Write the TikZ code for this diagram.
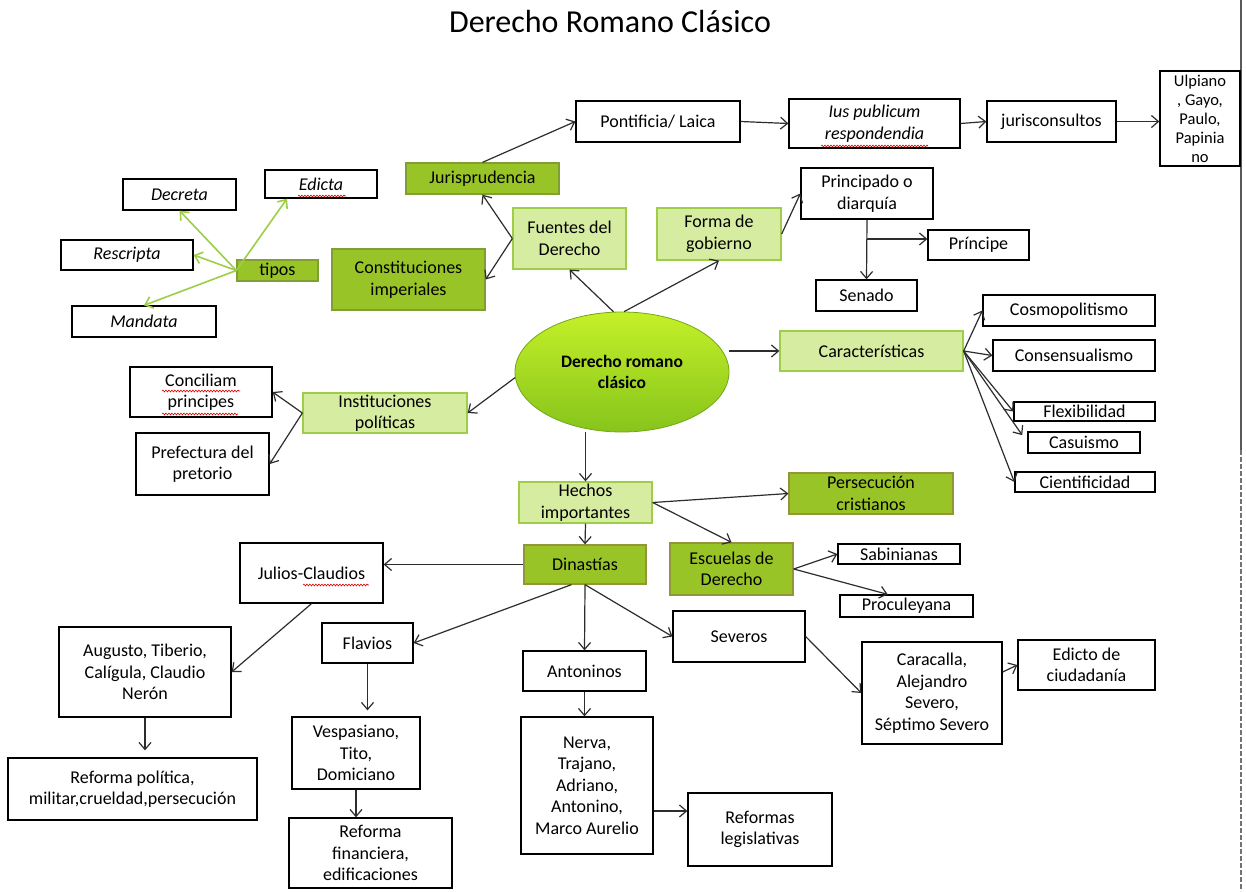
\documentclass[tikz,border=0pt]{standalone}
\usepackage{fontspec}
\setmainfont{Carlito}
\usetikzlibrary{arrows.meta,shapes.geometric,calc,decorations.pathmorphing}
\definecolor{dg}{RGB}{153,196,40}
\definecolor{dgb}{RGB}{128,158,52}
\definecolor{lg}{RGB}{214,236,160}
\definecolor{lgb}{RGB}{158,206,72}
\definecolor{conn}{RGB}{45,45,45}
\definecolor{tconn}{RGB}{158,206,72}
\definecolor{ellA}{RGB}{196,240,40}
\definecolor{ellB}{RGB}{135,196,28}
\tikzset{
  base/.style={inner sep=0pt, align=center, font=\fontsize{18}{21.5}\selectfont, text=black},
  itf/.style={font=\fontsize{18}{21.5}\selectfont\itshape},
  sz/.style 2 args={minimum width=#1pt, minimum height=#2pt},
  wbox/.style={base, draw=black, line width=1.3pt, fill=white},
  dgbox/.style={base, draw=dgb, line width=1.3pt, fill=dg},
  lgbox/.style={base, draw=lgb, line width=1.3pt, fill=lg},
  arr/.style={draw=conn, line width=1.2pt, -{Straight Barb[length=7pt,width=12pt]}},
  garr/.style={draw=tconn, line width=1.6pt, -{Straight Barb[length=7pt,width=12pt]}},
  squig/.style={draw=red!85!black, line width=0.6pt, decorate, decoration={snake, amplitude=0.9pt, segment length=3pt}}
}
\begin{document}
\begin{tikzpicture}[x=1pt,y=-1pt]
\useasboundingbox (0,0) rectangle (1246,891);
\fill[white] (0,0) rectangle (1246,891);
% right page border
\draw[black!65, line width=1.6pt] (1241,0) -- (1241,450);
\draw[black!55, line width=1.6pt, dash pattern=on 5pt off 2pt] (1241,450) -- (1241,891);

\node[base, font=\fontsize{32}{36}\selectfont] (title) at (610,22) {Derecho Romano Clásico};

% top area
\node[wbox, sz={164}{41}] (pont) at (658,121.5) {Pontificia/ Laica};
\node[wbox, sz={171}{49}, itf] (ius) at (874.5,123.5) {Ius publicum\\respondendia};
\node[wbox, sz={129}{41}] (juris) at (1051.5,121.5) {jurisconsultos};
\node[wbox, sz={80}{95}, font=\fontsize{16.5}{19}\selectfont] (ulp) at (1200,118.5) {Ulpiano\\, Gayo,\\Paulo,\\Papinia\\no};
\node[dgbox, sz={153}{31}] (jurisp) at (482.5,178.5) {Jurisprudencia};
\node[wbox, sz={112}{28}, itf] (edicta) at (321,184) {Edicta};
\node[wbox, sz={113}{31}, itf] (decreta) at (179.5,194.5) {Decreta};
\node[wbox, sz={132}{30}, itf] (rescripta) at (127,255) {Rescripta};
\node[dgbox, sz={81}{21}] (tipos) at (277.5,270.5) {tipos};
\node[wbox, sz={144}{31}, itf] (mandata) at (144,321.5) {Mandata};
\node[lgbox, sz={113}{61}] (fuentes) at (569.5,238.5) {Fuentes del\\Derecho};
\node[dgbox, sz={153}{61}] (const) at (408.5,279.5) {Constituciones\\imperiales};
\node[lgbox, sz={124}{52}] (forma) at (719,234) {Forma de\\gobierno};
\node[wbox, sz={132}{51}] (princ) at (867,193.5) {Principado o\\diarquía};
\node[wbox, sz={101}{30}] (principe) at (978.5,245) {Príncipe};
\node[wbox, sz={101}{31}] (senado) at (866.5,295.5) {Senado};

% central ellipse
\node[ellipse, draw=ellB!85!black, line width=0.8pt, top color=ellA, bottom color=ellB, minimum width=214pt, minimum height=120pt, inner sep=0pt, align=center, font=\fontsize{17.5}{21.5}\selectfont\bfseries] (ell) at (622,372) {Derecho romano\\clásico};

% characteristics
\node[lgbox, sz={183}{40}] (caract) at (871.5,351) {Características};
\node[wbox, sz={172}{31}] (cosmo) at (1069,310.5) {Cosmopolitismo};
\node[wbox, sz={162}{31}] (consen) at (1074,355.5) {Consensualismo};
\node[wbox, sz={141}{19}] (flex) at (1084.5,411.5) {Flexibilidad};
\node[wbox, sz={112}{21}] (casu) at (1084,442.5) {Casuismo};
\node[wbox, sz={140}{20}] (cient) at (1085,482) {Cientificidad};

% institutions
\node[lgbox, sz={164}{40}] (instit) at (385,413) {Instituciones\\políticas};
\node[wbox, sz={142}{50}] (concil) at (201,392) {Conciliam\\principes};
\node[wbox, sz={133}{62}] (prefect) at (202.5,464) {Prefectura del\\pretorio};

% events
\node[lgbox, sz={133}{41}] (hechos) at (585.5,502.5) {Hechos\\importantes};
\node[dgbox, draw=dgb!70!brown, sz={164}{41}] (persec) at (871,493.5) {Persecución\\cristianos};
\node[dgbox, draw=dgb!70!brown, sz={123}{52}] (escuelas) at (731.5,569) {Escuelas de\\Derecho};
\node[dgbox, draw=dgb!70!brown, sz={122}{39}] (dinast) at (585,564.5) {Dinastías};
\node[wbox, sz={122}{20}] (sabin) at (899,554) {Sabinianas};
\node[wbox, sz={133}{22}] (procul) at (906.5,606) {Proculeyana};

% dynasties
\node[wbox, sz={143}{60}] (julios) at (311.5,573) {Julios-Claudios};
\node[wbox, sz={91}{40}] (flavios) at (367.5,643) {Flavios};
\node[wbox, sz={123}{40}] (antoninos) at (584.5,671) {Antoninos};
\node[wbox, sz={132}{51}] (severos) at (739,636.5) {Severos};
\node[wbox, sz={172}{90}] (augusto) at (145,672) {Augusto, Tiberio,\\Calígula, Claudio\\Nerón};
\node[wbox, sz={249}{62}] (refpol) at (132.5,789) {Reforma política,\\militar,crueldad,persecución};
\node[wbox, sz={128}{72}] (vesp) at (356,753) {Vespasiano,\\Tito,\\Domiciano};
\node[wbox, sz={163}{70}] (reffin) at (370.5,853) {Reforma\\financiera,\\edificaciones};
\node[wbox, sz={132}{137}] (nerva) at (587,785.5) {Nerva,\\Trajano,\\Adriano,\\Antonino,\\Marco Aurelio};
\node[wbox, sz={144}{73}] (reflegis) at (760,829.5) {Reformas\\legislativas};
\node[wbox, sz={140}{102}] (caracalla) at (932,693) {Caracalla,\\Alejandro\\Severo,\\Séptimo Severo};
\node[wbox, sz={137}{50}] (edicto) at (1086.5,665) {Edicto de\\ciudadanía};

% spell-check underlines
\draw[squig] (298,196) -- (346,196);
\draw[squig] (821,146) -- (928,146);
\draw[squig] (162,391) -- (240,391);
\draw[squig] (162,414) -- (238,414);
\draw[squig] (303,585) -- (369,585);

% connectors: top
\draw[arr] (ell.98) -- (fuentes.south);
\draw[arr] (ell.88) -- (forma.south);
\draw[arr] (fuentes.west) -- (jurisp.south);
\draw[arr] (fuentes.west) -- (const.east);
\draw[arr] (jurisp.north) -- (pont.west);
\draw[arr] (pont.east) -- (ius.west);
\draw[arr] (ius.east) -- (juris.west);
\draw[arr] (juris.east) -- (ulp.west |- juris.east);
\draw[garr] (tipos.west) -- (decreta.south);
\draw[garr] (tipos.west) -- ($(edicta.south west)!0.2!(edicta.south east)$);
\draw[garr] (tipos.west) -- (rescripta.east);
\draw[garr] (tipos.west) -- (mandata.north);
\draw[arr] (forma.east) -- (princ.west);
\coordinate (pbr) at (867,239);
\draw[arr] (princ.south) -- (senado.north);
\draw[arr] (pbr) -- (principe.west |- pbr);

% characteristics
\draw[arr] (ell.east |- caract.west) -- (caract.west);
\draw[arr] (caract.east) -- (cosmo.west);
\draw[arr] (caract.east) -- (consen.west);
\draw[arr] (caract.east) -- (flex.west);
\draw[arr, shorten >=9pt] (caract.east) -- (casu.west);
\draw[arr] (caract.east) -- (cient.west);

% institutions
\draw[arr] (ell.183) -- (instit.east);
\draw[arr] (instit.west) -- (concil.east);
\draw[arr] (instit.west) -- (prefect.east);

% events
\draw[arr] (hechos.north |- ell.south) -- (hechos.north);
\draw[arr] (hechos.east) -- (persec.west);
\draw[arr] (hechos.east) -- (escuelas.north);
\draw[arr] (hechos.south) -- (dinast.north);
\draw[arr] (escuelas.east) -- (sabin.west);
\draw[arr] (escuelas.east) -- ($(procul.north west)!0.36!(procul.north east)$);

% dynasties
\draw[arr] (dinast.west) -- (julios.east |- dinast.west);
\draw[arr] ($(dinast.south west)!0.39!(dinast.south east)$) -- (flavios.east);
\draw[arr] (dinast.south) -- (antoninos.north);
\draw[arr] (dinast.south) -- (severos.west);
\draw[arr] (julios.south) -- (augusto.east);
\draw[arr, shorten >=7pt] (augusto.south) -- (augusto.south |- refpol.north);
\draw[arr, shorten >=6pt] (flavios.south) -- (flavios.south |- vesp.north);
\draw[arr] (vesp.south) -- (vesp.south |- reffin.north);
\draw[arr] (antoninos.south) -- (antoninos.south |- nerva.north);
\draw[arr] (nerva.east |- 0,811) -- (reflegis.west |- 0,811);
\draw[arr] (severos.east) -- (caracalla.west);
\draw[arr] (caracalla.east |- 0,672) -- (edicto.west);
\end{tikzpicture}
\end{document}
